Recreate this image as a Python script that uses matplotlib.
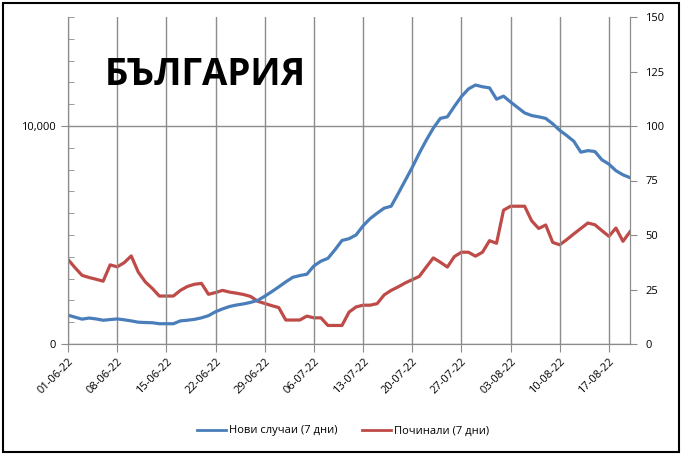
import numpy as np
import pandas as pd
import matplotlib
matplotlib.use('Agg')
import matplotlib.pyplot as plt
import matplotlib.dates as mdates
from matplotlib.ticker import MultipleLocator, FuncFormatter
from matplotlib.patches import Rectangle

plt.rcParams['font.family'] = ['Open Sans', 'DejaVu Sans']

# 7-day values, one per day from 01-06-2022
start = pd.Timestamp('2022-06-01')
new_cases = [
    1324, 1230, 1140, 1190, 1150, 1090, 1120, 1150, 1110, 1060,
    1000, 985, 975, 930, 930, 930, 1060, 1090, 1130, 1200,
    1300, 1480, 1610, 1720, 1790, 1840, 1910, 2000, 2190, 2400,
    2620, 2850, 3060, 3140, 3200, 3580, 3800, 3930, 4320, 4750,
    4830, 5000, 5420, 5750, 6000, 6230, 6320, 6900, 7500, 8100,
    8750, 9350, 9900, 10350, 10420, 10900, 11350, 11700, 11880, 11800,
    11750, 11230, 11370, 11100, 10850, 10600, 10480, 10420, 10350, 10100,
    9800, 9560, 9300, 8800, 8870, 8830, 8450, 8250, 7950, 7760,
    7630,
]
deaths = [
    38.8, 35, 31.5, 30.5, 29.7, 28.8, 36.3, 35.4, 37.3, 40.4,
    33, 28.5, 25.5, 22, 22, 22, 24.6, 26.4, 27.4, 27.8,
    22.8, 23.6, 24.6, 23.8, 23.3, 22.7, 21.8, 19.6, 18.6, 17.6,
    16.7, 11, 11, 11, 12.8, 12, 12, 8.5, 8.5, 8.5,
    14.6, 17, 17.8, 17.8, 18.5, 22.5, 24.6, 26.2, 28, 29.5,
    31, 35.3, 39.5, 37.5, 35.3, 40.1, 42.1, 42.1, 40.3, 42.1,
    47.4, 46.2, 61.4, 63.2, 63.2, 63.2, 56.5, 53, 54.6, 46.6,
    45.5, 47.9, 50.5, 53, 55.5, 54.7, 52, 49.4, 53.2, 47.1,
    51.5,
]
dates = pd.date_range(start, periods=len(new_cases), freq='D')

grid_c = '#8c8c8c'
blue = '#4a7ebb'
red = '#be4b48'

fig = plt.figure(figsize=(6.83, 4.57), dpi=100)
ax = fig.add_axes([68 / 683, 1 - 344 / 457, (630 - 68) / 683, (344 - 17) / 457])
ax2 = ax.twinx()

ln1, = ax.plot(dates, new_cases, color=blue, lw=2.3, label='Нови случаи (7 дни)', solid_joinstyle='round')
ln2, = ax2.plot(dates, deaths, color=red, lw=2.3, label='Починали (7 дни)', solid_joinstyle='round')

ax.set_xlim(dates[0], dates[-1])
ax.set_ylim(0, 15000)
ax2.set_ylim(0, 150)

ax.set_xticks(pd.date_range(start, dates[-1], freq='7D'))
ax.xaxis.set_major_formatter(mdates.DateFormatter('%d-%m-%y'))
plt.setp(ax.get_xticklabels(), rotation=45, ha='right', rotation_mode='anchor', fontsize=8)
ax.grid(axis='x', color=grid_c, lw=1)

ax.yaxis.set_major_locator(MultipleLocator(10000))
ax.yaxis.set_minor_locator(MultipleLocator(1000))
ax.yaxis.set_major_formatter(FuncFormatter(lambda v, p: f'{int(v):,}'))
ax.grid(axis='y', which='major', color=grid_c, lw=1)
ax.tick_params(axis='y', which='major', direction='out', length=5, color=grid_c, labelsize=8, pad=4)
ax.tick_params(axis='y', which='minor', direction='in', length=4, color=grid_c)
ax.tick_params(axis='x', direction='out', length=6, color=grid_c, pad=3)

ax2.yaxis.set_major_locator(MultipleLocator(25))
ax2.tick_params(axis='y', direction='out', length=5, color=grid_c, labelsize=8, pad=6)

for a in (ax, ax2):
    a.spines['top'].set_visible(False)
    for s in ('left', 'right', 'bottom'):
        a.spines[s].set_color(grid_c)
ax.set_zorder(ax2.get_zorder() + 1)
ax.patch.set_visible(False)

fig.text(205 / 683, 1 - 75 / 457, 'БЪЛГАРИЯ', fontsize=26.5, fontweight='bold',
         ha='center', va='center')

fig.legend(handles=[ln1, ln2], loc='center', bbox_to_anchor=(343 / 683, 1 - 431 / 457),
           ncol=2, frameon=False, fontsize=8, handlelength=2.6, columnspacing=2.2,
           handletextpad=0.3)
for h in fig.legends[0].get_lines():
    h.set_linewidth(2)

fig.patches.append(Rectangle((3 / 683, 5 / 457), 676 / 683, 449 / 457, transform=fig.transFigure,
                             fill=False, edgecolor='black', lw=1.5))

fig.savefig('out.png', dpi=100)
